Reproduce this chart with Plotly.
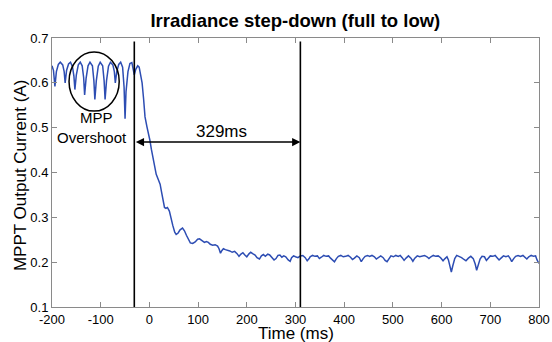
import plotly.graph_objects as go

# ---- data ----
time_ms = [
    -200, -197, -194, -191, -187, -183, -178, -175, -173, -170, -166, -162,
    -158, -155, -153, -150, -146, -142, -138, -135, -133, -130, -126, -122,
    -117, -114, -112, -109, -105, -101, -96, -93, -91, -88, -84, -80,
    -75, -72, -70, -67, -63, -59, -55, -52, -50, -48, -44, -40,
    -36, -33, -31, -28, -24, -21, -18, -15, -12, -9, -5, -2,
    1, 4, 8, 11, 14, 18, 22, 25, 28, 31, 34, 37,
    41, 44, 48, 52, 55, 59, 63, 68, 72, 76, 80, 84,
    89, 94, 99, 103, 108, 113, 117, 121, 125, 130, 135, 140,
    143, 146, 149, 152, 156, 160, 165, 170, 175, 180, 184, 188,
    192, 196, 200, 204, 208, 212, 217, 221, 226, 230, 234, 238,
    243, 247, 252, 256, 260, 264, 268, 272, 276, 280, 285, 289,
    292, 296, 300, 305, 310, 315, 320, 324, 328,
    330, 335, 340, 345, 349, 353, 358, 363, 368, 372, 376, 380,
    384, 388, 393, 398, 403, 408, 413, 417, 421, 426, 431, 435,
    439, 443, 448, 452, 457, 462, 466, 470, 475, 480, 484, 488,
    492, 496, 501, 506, 511, 515, 519, 523, 527, 532, 537, 541,
    545, 550, 555, 560, 565, 570, 574, 578, 583, 588, 593, 598,
    603, 607, 611, 614, 617, 620, 623, 627, 631, 636, 641, 646,
    650, 655, 660, 665, 669, 672, 675, 679, 683, 688, 692, 696,
    700, 705, 710, 714, 718, 722, 727, 732, 737, 741, 744, 748,
    752, 757, 762, 767, 771, 775, 779, 784, 789, 793, 796, 800,
]
current_a = [
    0.638, 0.628, 0.592, 0.625, 0.641, 0.646, 0.640, 0.625, 0.600, 0.628, 0.642, 0.646,
    0.636, 0.615, 0.585, 0.618, 0.640, 0.646, 0.638, 0.612, 0.573, 0.610, 0.638, 0.646,
    0.638, 0.605, 0.563, 0.605, 0.637, 0.646, 0.638, 0.605, 0.563, 0.605, 0.637, 0.646,
    0.640, 0.625, 0.600, 0.625, 0.641, 0.646, 0.635, 0.590, 0.520, 0.580, 0.625, 0.643,
    0.645, 0.632, 0.618, 0.630, 0.638, 0.635, 0.620, 0.600, 0.565, 0.524, 0.502, 0.488,
    0.472, 0.452, 0.428, 0.410, 0.396, 0.385, 0.374, 0.356, 0.338, 0.322, 0.320, 0.322,
    0.314, 0.298, 0.282, 0.267, 0.262, 0.265, 0.272, 0.276, 0.270, 0.260, 0.250, 0.243,
    0.242, 0.245, 0.251, 0.252, 0.248, 0.244, 0.246, 0.244, 0.240, 0.238, 0.239, 0.236,
    0.230, 0.220, 0.226, 0.230, 0.228, 0.227, 0.225, 0.222, 0.224, 0.219, 0.213, 0.218,
    0.221, 0.216, 0.212, 0.218, 0.222, 0.219, 0.216, 0.210, 0.207, 0.214, 0.217, 0.213,
    0.218, 0.216, 0.211, 0.205, 0.208, 0.215, 0.216, 0.211, 0.214, 0.212, 0.205, 0.202,
    0.210, 0.214, 0.212, 0.210, 0.214, 0.215, 0.210, 0.203, 0.208,
    0.212, 0.215, 0.213, 0.214, 0.208, 0.211, 0.215, 0.213, 0.214, 0.209, 0.204, 0.201,
    0.208, 0.213, 0.215, 0.212, 0.213, 0.215, 0.211, 0.206, 0.209, 0.214, 0.210, 0.201,
    0.208, 0.213, 0.215, 0.213, 0.215, 0.212, 0.207, 0.211, 0.214, 0.210, 0.204, 0.201,
    0.208, 0.214, 0.212, 0.215, 0.213, 0.215, 0.210, 0.204, 0.209, 0.214, 0.209, 0.202,
    0.209, 0.214, 0.212, 0.214, 0.215, 0.212, 0.208, 0.212, 0.215, 0.213, 0.214, 0.210,
    0.203, 0.208, 0.212, 0.205, 0.190, 0.178, 0.192, 0.208, 0.215, 0.213, 0.210, 0.206,
    0.203, 0.209, 0.213, 0.208, 0.196, 0.182, 0.195, 0.207, 0.213, 0.212, 0.204, 0.209,
    0.214, 0.213, 0.215, 0.210, 0.205, 0.209, 0.214, 0.212, 0.214, 0.208, 0.201, 0.208,
    0.213, 0.215, 0.213, 0.215, 0.210, 0.207, 0.212, 0.215, 0.213, 0.214, 0.205, 0.197,
]

x_ticks = [-200, -100, 0, 100, 200, 300, 400, 500, 600, 700, 800]
x_tick_labels = ["-200", "-100", "0", "100", "200", "300", "400", "500", "600", "700", "800"]
y_ticks = [0.1, 0.2, 0.3, 0.4, 0.5, 0.6, 0.7]
y_tick_labels = ["0.1", "0.2", "0.3", "0.4", "0.5", "0.6", "0.7"]

marker_times = [-31, 310]      # vertical reference lines (ms)
arrow_level = 0.468            # current level of the 329ms arrow
marker_top = 0.692
overshoot_box = dict(x0=-165, x1=-62, y0=0.537, y1=0.669)

FONT = "Liberation Sans, Arial, sans-serif"
AXIS_GRAY = "#8a8a8a"

fig = go.Figure()
fig.add_trace(go.Scatter(
    x=time_ms, y=current_a, mode="lines",
    line=dict(color="#2d4db3", width=1.5),
    showlegend=False, hoverinfo="skip",
))

shapes = []
for t in marker_times:
    shapes.append(dict(type="line", xref="x", yref="y", x0=t, x1=t,
                       y0=0.1, y1=marker_top, line=dict(color="black", width=1.6)))
shapes.append(dict(type="circle", xref="x", yref="y", **overshoot_box,
                   line=dict(color="black", width=1.5)))

annotations = [
    dict(x=marker_times[1], y=arrow_level, ax=marker_times[0], ay=arrow_level,
         xref="x", yref="y", axref="x", ayref="y", text="", showarrow=True,
         arrowhead=2, arrowside="end+start", arrowsize=1.1, arrowwidth=1.5,
         arrowcolor="black", standoff=0, startstandoff=0),
    dict(x=149, y=0.491, xref="x", yref="y", text="329ms", showarrow=False,
         font=dict(family=FONT, size=17, color="black"), xanchor="center", yanchor="middle"),
    dict(x=-108, y=0.522, xref="x", yref="y", text="MPP", showarrow=False,
         font=dict(family=FONT, size=15, color="black"), xanchor="center", yanchor="middle"),
    dict(x=-118, y=0.479, xref="x", yref="y", text="Overshoot", showarrow=False,
         font=dict(family=FONT, size=15, color="black"), xanchor="center", yanchor="middle"),
    dict(x=0.5, y=-0.099, xref="paper", yref="paper", text="Time (ms)", showarrow=False,
         font=dict(family=FONT, size=17, color="black"), xanchor="center", yanchor="middle"),
    dict(x=-0.066, y=0.49, xref="paper", yref="paper", text="MPPT Output Current (A)",
         showarrow=False, textangle=-90,
         font=dict(family=FONT, size=17, color="black"), xanchor="center", yanchor="middle"),
]

fig.update_layout(
    width=552, height=342, autosize=False,
    margin=dict(l=52, r=13, t=38, b=35, pad=0, autoexpand=False),
    paper_bgcolor="white", plot_bgcolor="white",
    title=dict(text="<b>Irradiance step-down (full to low)</b>", x=0.535, xanchor="center",
               y=1 - 21 / 342, yanchor="middle",
               font=dict(family=FONT, size=18.5, color="black")),
    shapes=shapes, annotations=annotations,
    font=dict(family=FONT, color="black"),
)
fig.update_xaxes(range=[-200, 800], tickvals=x_ticks, ticktext=x_tick_labels,
                 automargin=False,
                 showgrid=False, zeroline=False, showline=True, linecolor=AXIS_GRAY,
                 linewidth=1, mirror="ticks", ticks="inside", ticklen=5,
                 tickcolor=AXIS_GRAY, tickfont=dict(family=FONT, size=13, color="black"))
fig.update_yaxes(range=[0.1, 0.7], tickvals=y_ticks, ticktext=y_tick_labels,
                 automargin=False,
                 showgrid=False, zeroline=False, showline=True, linecolor=AXIS_GRAY,
                 linewidth=1, mirror="ticks", ticks="inside", ticklen=5,
                 tickcolor=AXIS_GRAY, tickfont=dict(family=FONT, size=13, color="black"))

fig.write_html("out.html",
               config={"displayModeBar": False, "responsive": False},
               post_script="document.body.style.margin='0';document.body.style.overflow='hidden';")
